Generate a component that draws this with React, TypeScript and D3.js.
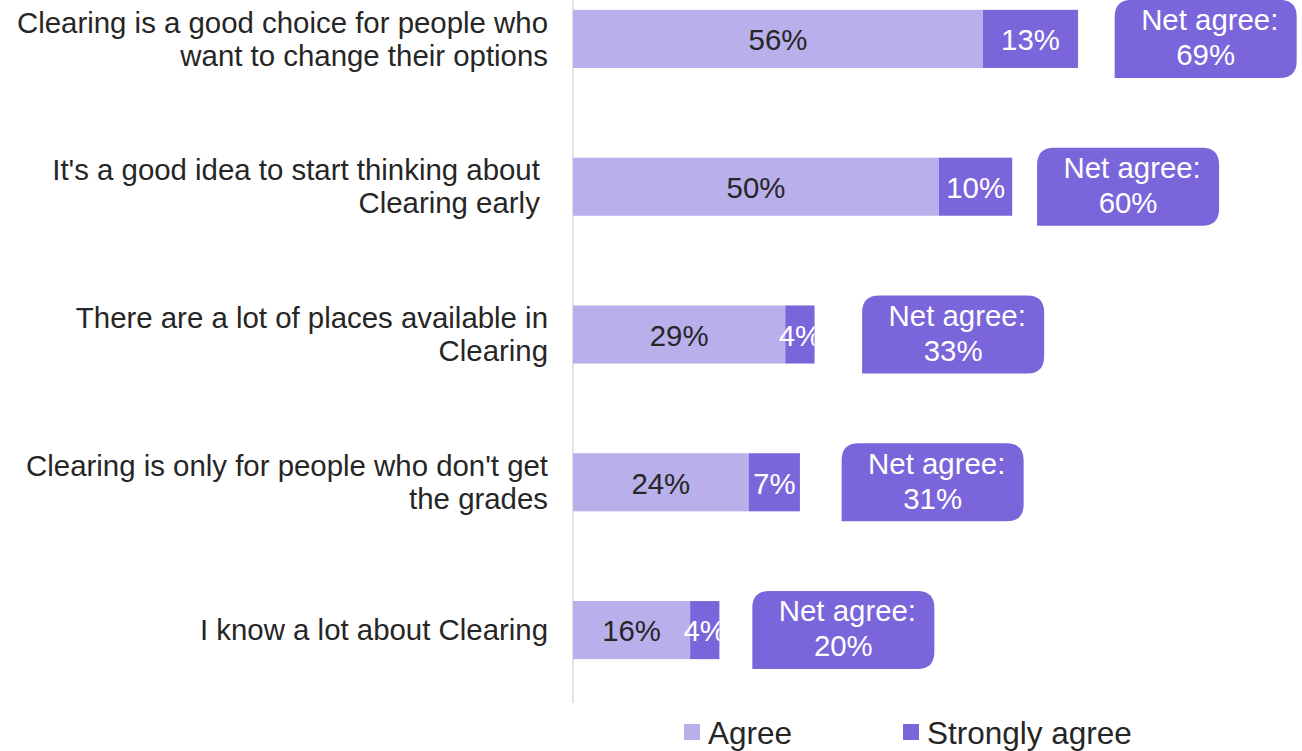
import React from "react";
import * as d3 from "d3";

// ---- data ----
const categories: string[][] = [
  ["Clearing is a good choice for people who", "want to change their options"],
  ["It's a good idea to start thinking about ", "Clearing early "],
  ["There are a lot of places available in", "Clearing"],
  ["Clearing is only for people who don't get", "the grades"],
  ["I know a lot about Clearing"],
];
const agree: number[] = [56, 50, 29, 24, 16];
const stronglyAgree: number[] = [13, 10, 4, 7, 4];
const netAgree: number[] = [69, 60, 33, 31, 20];
const seriesNames: string[] = ["Agree", "Strongly agree"];

// ---- layout (gap between bar end and net box, in axis units) ----
const netBoxGap: number[] = [5, 3.4, 6.5, 5.7, 4.5];

const W = 1302;
const H = 751;
const AGREE_COLOR = "#b9afeb";
const STRONG_COLOR = "#7b65da";
const TEXT = "#262626";
const FONT = "'Liberation Sans', Arial, sans-serif";
const FS = 29.4;

function boxPath(x: number, y: number, w: number, h: number, r: number) {
  // rounded top-left, top-right, bottom-right; square bottom-left
  return `M${x},${y + h} L${x},${y + r} Q${x},${y} ${x + r},${y} L${x + w - r},${y} Q${x + w},${y} ${x + w},${y + r} L${x + w},${y + h - r} Q${x + w},${y + h} ${x + w - r},${y + h} Z`;
}

export default function App() {
  const x = d3.scaleLinear().domain([0, 100]).range([573, 1305]);
  const idx = categories.map((_, i) => String(i));
  const y = d3
    .scaleBand<string>()
    .domain(idx)
    .range([-35, 704])
    .paddingInner(0.607)
    .paddingOuter(0.3035);
  const bh = y.bandwidth();
  const boxW = 182;
  const boxH = 78;

  return (
    <div style={{ position: "absolute", left: 0, top: 0, width: W, height: H }}>
      <svg width={W} height={H} style={{ display: "block", fontFamily: FONT }}>
        <defs>
          {idx.map((k, i) => (
            <clipPath id={`clip${i}`} key={k}>
              <rect x={x(0)} y={y(k)!} width={x(agree[i] + stronglyAgree[i]) - x(0)} height={bh} />
            </clipPath>
          ))}
        </defs>
        <line x1={573} x2={573} y1={0} y2={703} stroke="#d9d9d9" strokeWidth={1.5} />
        {idx.map((k, i) => {
          const y0 = y(k)!;
          const cy = y0 + bh / 2;
          const lines = categories[i];
          const lh = 33;
          const startY = cy - ((lines.length - 1) * lh) / 2;
          const total = agree[i] + stronglyAgree[i];
          const bx = x(total + netBoxGap[i]);
          const by = cy - boxH / 2;
          return (
            <g key={k}>
              {lines.map((t, j) => (
                <text
                  key={j}
                  x={548}
                  y={startY + j * lh}
                  dy="0.35em"
                  textAnchor="end"
                  fontSize={FS}
                  fill={TEXT}
                  style={{ whiteSpace: "pre" }}
                >
                  {t}
                </text>
              ))}
              <rect x={x(0)} y={y0} width={x(agree[i]) - x(0)} height={bh} fill={AGREE_COLOR} />
              <rect
                x={x(agree[i])}
                y={y0}
                width={x(total) - x(agree[i])}
                height={bh}
                fill={STRONG_COLOR}
              />
              <text
                x={(x(0) + x(agree[i])) / 2}
                y={cy + 1}
                dy="0.35em"
                textAnchor="middle"
                fontSize={FS}
                fill={TEXT}
              >
                {agree[i]}%
              </text>
              <text
                x={(x(agree[i]) + x(total)) / 2}
                y={cy + 1}
                dy="0.35em"
                textAnchor="middle"
                fontSize={FS}
                fill="#ffffff"
                clipPath={`url(#clip${i})`}
              >
                {stronglyAgree[i]}%
              </text>
              <path d={boxPath(bx, by, boxW, boxH, 17)} fill={STRONG_COLOR} />
              <text
                x={bx + boxW / 2}
                y={by + boxH / 2 - 19}
                dy="0.35em"
                textAnchor="middle"
                fontSize={FS}
                fill="#ffffff"
                style={{ whiteSpace: "pre" }}
              >
                {" Net agree:"}
              </text>
              <text
                x={bx + boxW / 2}
                y={by + boxH / 2 + 16}
                dy="0.35em"
                textAnchor="middle"
                fontSize={FS}
                fill="#ffffff"
              >
                {netAgree[i]}%
              </text>
            </g>
          );
        })}
        {/* legend */}
        {seriesNames.map((s, i) => {
          const lx = [684, 903][i];
          return (
            <g key={s}>
              <rect x={lx} y={724} width={16} height={16} fill={i === 0 ? AGREE_COLOR : STRONG_COLOR} />
              <text x={lx + 24} y={733} dy="0.35em" fontSize={31.5} fill={TEXT}>
                {s}
              </text>
            </g>
          );
        })}
      </svg>
    </div>
  );
}
